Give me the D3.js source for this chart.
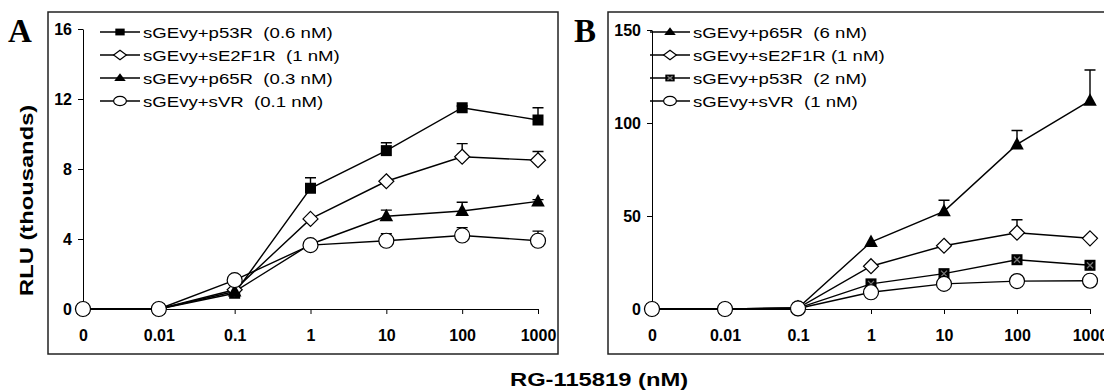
<!DOCTYPE html>
<html>
<head>
<meta charset="utf-8">
<script src="https://cdn.jsdelivr.net/npm/d3@7"></script>
<style>
body { margin: 0; background: #fff; }
svg { display: block; font-family: Arial, "Liberation Sans", sans-serif; }
</style>
</head>
<body>
<div id="chart"></div>
<script>
// x categories (RG-115819, nM)
var doses = ["0", "0.01", "0.1", "1", "10", "100", "1000"];

// panel A (RLU, thousands)
var aLabels = ["sGEvy+p53R  (0.6 nM)", "sGEvy+sE2F1R  (1 nM)", "sGEvy+p65R  (0.3 nM)", "sGEvy+sVR  (0.1 nM)"];
var aMarkers = ["square", "diamond", "triangle", "circle"];
var aValues = [
    [0, 0, 0.9, 6.9, 9.05, 11.5, 10.8],
    [0, 0, 1.1, 5.15, 7.3, 8.7, 8.5],
    [0, 0, 1.0, 3.7, 5.3, 5.6, 6.15],
    [0, 0, 1.65, 3.65, 3.9, 4.2, 3.9]
];
var aErrors = [
    [0, 0, 0, 0.6, 0.45, 0.1, 0.7],
    [0, 0, 0, 0, 0.1, 0.75, 0.5],
    [0, 0, 0, 0, 0.35, 0.5, 0.1],
    [0, 0, 0, 0, 0.4, 0.45, 0.55]
];
var aTicks = [0, 4, 8, 12, 16];

// panel B
var bLabels = ["sGEvy+p65R  (6 nM)", "sGEvy+sE2F1R (1 nM)", "sGEvy+p53R  (2 nM)", "sGEvy+sVR  (1 nM)"];
var bMarkers = ["triangle", "diamond", "squareX", "circle"];
var bValues = [
    [0, 0, 0.5, 36, 52.5, 88.5, 112],
    [0, 0, 0.5, 23, 34, 41, 38],
    [0, 0, 0.5, 13.5, 19, 26.5, 23.5],
    [0, 0, 0.3, 9, 13.5, 15, 15.2]
];
var bErrors = [
    [0, 0, 0, 0, 6, 7.5, 16.5],
    [0, 0, 0, 0, 0, 7, 0],
    [0, 0, 0, 0, 0, 0, 0],
    [0, 0, 0, 0, 0, 0, 0]
];
var bTicks = [0, 50, 100, 150];

var ctx = {
    w: 1104,
    h: 390,
    panels: [
        {letter: "A", letterX: 8, frame: [48, 12, 558, 354], x: [83, 538], y: [309, 29], yMax: 16,
         ticks: aTicks, labels: aLabels, markers: aMarkers, values: aValues, errors: aErrors, legendX: 100},
        {letter: "B", letterX: 574, frame: [608, 12, 1112, 354], x: [652, 1090], y: [309, 30], yMax: 150,
         ticks: bTicks, labels: bLabels, markers: bMarkers, values: bValues, errors: bErrors, legendX: 650}
    ],
    legendY: 32,
    legendStep: 23
};

// text drawn wider than the font, like the exported figure
var wideText = function(parent, x, y, str, size, sx, angle) {
    var g = parent.append("g")
        .attr("transform", "translate(" + x + "," + y + ") rotate(" + (angle || 0) + ") scale(" + sx + ",1)");
    return g.append("text")
        .style("white-space", "pre")
        .attr("font-size", size + "px")
        .text(str);
};

var drawMarker = function(g, type) {
    if (type == "square" || type == "squareX") {
        g.append("rect").attr("x", -5.5).attr("y", -5.5).attr("width", 11).attr("height", 11)
            .attr("fill", "#000");
        if (type == "squareX") {
            g.append("path").attr("d", "M-3,-3L3,3M3,-3L-3,3")
                .attr("stroke", "#777").attr("stroke-width", 1.3)
                .attr("vector-effect", "non-scaling-stroke");
        }
    } else if (type == "diamond") {
        g.append("path").attr("d", "M0,-7.5L7.5,0L0,7.5L-7.5,0Z")
            .attr("fill", "#fff").attr("stroke", "#000").attr("stroke-width", 1.2)
            .attr("vector-effect", "non-scaling-stroke");
    } else if (type == "triangle") {
        g.append("path").attr("d", "M0,-7.5L6.8,5L-6.8,5Z")
            .attr("fill", "#000");
    } else {
        g.append("circle").attr("r", 7.5)
            .attr("fill", "#fff").attr("stroke", "#000").attr("stroke-width", 1.2)
            .attr("vector-effect", "non-scaling-stroke");
    }
};

var drawPanel = function(svgEl, p) {
    var xScale = d3.scalePoint().domain(doses).range(p.x);
    var yScale = d3.scaleLinear().domain([0, p.yMax]).range(p.y);

    svgEl.append("rect")
        .attr("x", p.frame[0]).attr("y", p.frame[1])
        .attr("width", p.frame[2] - p.frame[0]).attr("height", p.frame[3] - p.frame[1])
        .attr("fill", "none").attr("stroke", "#222").attr("stroke-width", 1.5);

    svgEl.append("text")
        .attr("x", p.letterX).attr("y", 42)
        .attr("font-family", "'Liberation Serif', 'Times New Roman', serif")
        .attr("font-weight", "bold").attr("font-size", "33px")
        .text(p.letter);

    var yAxis = svgEl.append("g")
        .attr("transform", "translate(" + p.x[0] + ",0)")
        .call(d3.axisLeft(yScale).tickValues(p.ticks).tickSize(5).tickSizeOuter(0).tickPadding(6));
    var xAxis = svgEl.append("g")
        .attr("transform", "translate(0," + p.y[0] + ")")
        .call(d3.axisBottom(xScale).tickSize(5).tickSizeOuter(0).tickPadding(16));
    [yAxis, xAxis].forEach(function(ax) {
        ax.selectAll("text").attr("font-size", "16px").attr("font-weight", "bold")
            .attr("font-family", "Arial, 'Liberation Sans', sans-serif").attr("fill", "#000");
        ax.selectAll("line, path").attr("stroke", "#000");
    });

    var line = d3.line()
        .x(function(d, i) { return xScale(doses[i]); })
        .y(function(d) { return yScale(d); });

    var plot = svgEl.append("g");
    p.values.forEach(function(vals, s) {
        plot.append("path")
            .attr("d", line(vals))
            .attr("fill", "none").attr("stroke", "#000").attr("stroke-width", 1.4);
    });
    // error bars behind markers
    p.values.forEach(function(vals, s) {
        vals.forEach(function(v, i) {
            var e = p.errors[s][i];
            if (!e) return;
            var cx = xScale(doses[i]);
            plot.append("path")
                .attr("d", "M" + cx + "," + yScale(v) + "V" + yScale(v + e) + "M" + (cx - 5.5) + "," + yScale(v + e) + "H" + (cx + 5.5))
                .attr("fill", "none").attr("stroke", "#000").attr("stroke-width", 1.4);
        });
    });
    p.values.forEach(function(vals, s) {
        vals.forEach(function(v, i) {
            var g = plot.append("g")
                .attr("transform", "translate(" + xScale(doses[i]) + "," + yScale(v) + ")");
            drawMarker(g, p.markers[s]);
        });
    });

    // legend
    var legend = svgEl.append("g");
    p.labels.forEach(function(label, s) {
        var ly = ctx.legendY + s * ctx.legendStep;
        legend.append("line")
            .attr("x1", p.legendX).attr("x2", p.legendX + 40)
            .attr("y1", ly).attr("y2", ly)
            .attr("stroke", "#000").attr("stroke-width", 1.4);
        var m = legend.append("g")
            .attr("transform", "translate(" + (p.legendX + 20) + "," + ly + ") scale(0.85,0.62)");
        drawMarker(m, p.markers[s]);
        wideText(legend, p.legendX + 43, ly + 5.5, label, 15.5, 1.2);
    });
};

var createViz = function() {
    var svgEl = d3.select("#chart").append("svg")
        .attr("width", ctx.w)
        .attr("height", ctx.h);

    ctx.panels.forEach(function(p) { drawPanel(svgEl, p); });

    wideText(svgEl, 33, 296, "RLU (thousands)", 19, 1.25, -90)
        .attr("font-weight", "bold");
    wideText(svgEl, 510, 386, "RG-115819 (nM)", 19, 1.25, 0)
        .attr("font-weight", "bold");
};

createViz();
</script>
</body>
</html>
